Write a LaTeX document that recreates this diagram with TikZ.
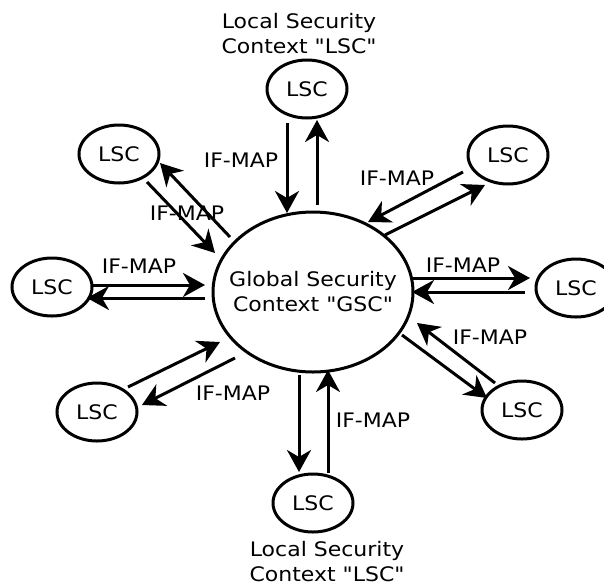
\documentclass[tikz,border=0pt]{standalone}
\usepackage{fontspec}
\setmainfont{DejaVu Sans}[FakeStretch=1.1,Ligatures=TeXOff]
\usetikzlibrary{shapes.geometric,arrows.meta,calc}
\begin{document}
\begin{tikzpicture}[x=1pt,y=-1pt,
  every node/.style={font=\fontsize{20}{25}\selectfont},
  lsc/.style={ellipse,draw,line width=3pt,minimum width=80pt,minimum height=58pt,inner sep=0pt},
  gscnode/.style={ellipse,draw,line width=3pt,minimum width=200pt,minimum height=160pt,inner sep=0pt},
  arr/.style={line width=3pt,-{Stealth[length=22pt,width=24pt,inset=7pt]}},
  lbl/.style={inner sep=0pt},
  captext/.style={align=center,inner sep=0pt}]
\useasboundingbox (0,0) rectangle (604,587);
\clip (0,0) rectangle (604,587);
\node[gscnode] (gsc) at (313,292) {};
\node[captext] (gsctext) at (313,292) {Global Security\\Context "GSC"};
\node[lsc] (t)  at (307,89)  {LSC};
\node[lsc] (tl) at (119,154) {LSC};
\node[lsc] (tr) at (508,155) {LSC};
\node[lsc] (l)  at (52,287)  {LSC};
\node[lsc] (r)  at (576,288) {LSC};
\node[lsc] (bl) at (97,412)  {LSC};
\node[lsc] (br) at (522,410) {LSC};
\node[lsc] (b)  at (313,503) {LSC};
\node[captext] (tcap) at (299,34) {Local Security\\Context "LSC"};
\node[captext] (bcap) at (327,562) {Local Security\\Context "LSC"};
% top
\draw[arr] ($(t)+(-20,34)$) -- ($(gsc)+(-26,-79)$);
\draw[arr] ($(gsc)+(4,-87)$) -- ($(t)+(10,31)$);
\node[lbl] (m1) at (241,160) {IF-MAP};
% top-left
\draw[arr] ($(tl)+(28,28)$) -- ($(gsc)+(-98,-39)$);
\draw[arr] ($(gsc)+(-83,-55)$) -- ($(tl)+(41,9)$);
\node[lbl] (m2) at (187,213) {IF-MAP};
% top-right
\draw[arr] ($(tr)+(-45,17)$) -- ($(gsc)+(55,-70)$);
\draw[arr] ($(gsc)+(72,-57)$) -- ($(tr)+(-23,30)$);
\node[lbl] (m3) at (397,178) {IF-MAP};
% right
\draw[arr] ($(gsc)+(100,-14)$) -- ($(r)+(-46,-10)$);
\draw[arr] ($(r)+(-51,4)$) -- ($(gsc)+(99,0)$);
\node[lbl] (m4) at (463,265) {IF-MAP};
% left
\draw[arr] ($(l)+(40,-2)$) -- ($(gsc)+(-108,-7)$);
\draw[arr] ($(gsc)+(-108,6)$) -- ($(l)+(35,11)$);
\node[lbl] (m5) at (139,266) {IF-MAP};
% bottom-left
\draw[arr] ($(bl)+(31,-25)$) -- ($(gsc)+(-93,50)$);
\draw[arr] ($(gsc)+(-78,66)$) -- ($(bl)+(45,-7)$);
\node[lbl] (m6) at (233,393) {IF-MAP};
% bottom-right
\draw[arr] ($(br)+(-27,-27)$) -- ($(gsc)+(104,31)$);
\draw[arr] ($(gsc)+(89,43)$) -- ($(br)+(-35,-12)$);
\node[lbl] (m7) at (490,337) {IF-MAP};
% bottom
\draw[arr] ($(gsc)+(-14,83)$) -- ($(b)+(-14,-31)$);
\draw[arr] ($(b)+(15,-30)$) -- ($(gsc)+(15,78)$);
\node[lbl] (m8) at (373,420) {IF-MAP};
\end{tikzpicture}
\end{document}
